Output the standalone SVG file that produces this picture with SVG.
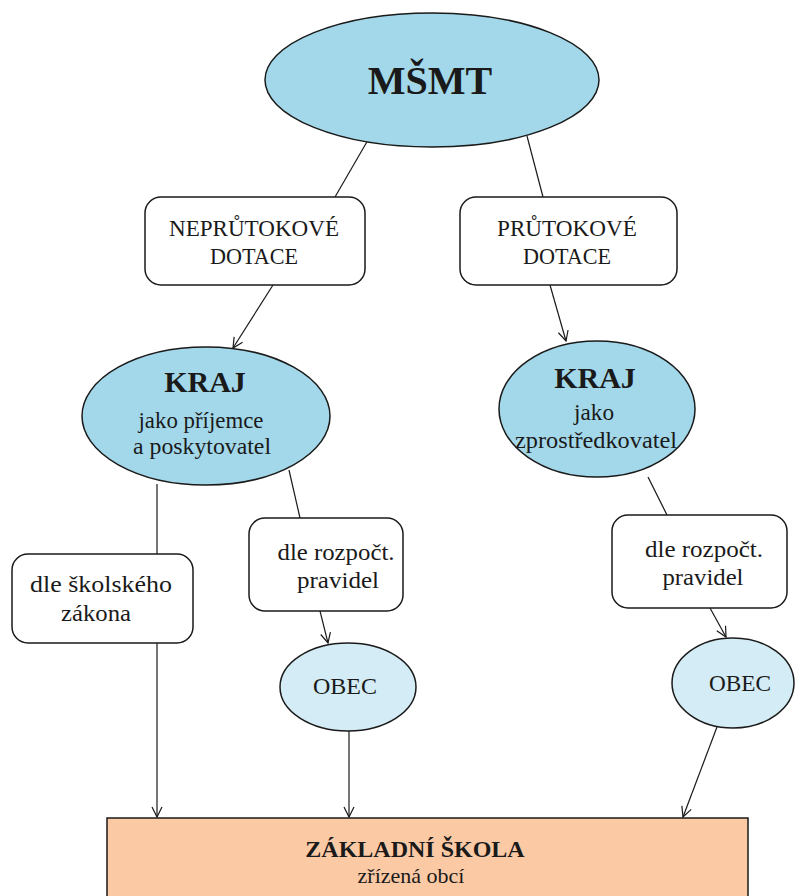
<svg xmlns="http://www.w3.org/2000/svg" width="799" height="896" viewBox="0 0 799 896">
<style>
  .txt { font-family: 'Liberation Serif', 'Times New Roman', Tinos, 'DejaVu Serif', serif; fill: #1a1a1a; text-anchor: middle; }
  .b { font-weight: bold; }
  .ell { fill: #a3d8ea; stroke: #1a1a1a; stroke-width: 1.5; }
  .ell2 { fill: #d4ecf5; stroke: #1a1a1a; stroke-width: 1.5; }
  .box { fill: #ffffff; stroke: #1a1a1a; stroke-width: 1.5; }
  .school { fill: #fcc9a5; stroke: #1a1a1a; stroke-width: 1.5; }
  .conn { stroke: #1a1a1a; stroke-width: 1.2; fill: none; }
  .arr { marker-end: url(#open); }
</style>
<defs>
  <marker id="open" viewBox="0 0 12 12" refX="11" refY="6" markerWidth="12" markerHeight="12" markerUnits="userSpaceOnUse" orient="auto">
    <path d="M1,1 L11,6 L1,11" fill="none" stroke="#1a1a1a" stroke-width="1.2"/>
  </marker>
</defs>
<rect width="799" height="896" fill="#ffffff"/>

<g id="connectors">
  <line class="conn" x1="368" y1="140" x2="335" y2="197"/>
  <line class="conn" x1="527" y1="136" x2="543" y2="197"/>
  <line class="conn arr" x1="273" y1="285" x2="233" y2="348"/>
  <line class="conn arr" x1="550" y1="285" x2="566" y2="341"/>
  <line class="conn" x1="157" y1="484" x2="157" y2="554"/>
  <line class="conn arr" x1="157" y1="643" x2="157" y2="817"/>
  <line class="conn" x1="289" y1="470" x2="300" y2="518"/>
  <line class="conn arr" x1="320" y1="611" x2="328" y2="643"/>
  <line class="conn arr" x1="349" y1="731" x2="349" y2="817"/>
  <line class="conn" x1="648" y1="477" x2="667" y2="515"/>
  <line class="conn arr" x1="710" y1="608" x2="726" y2="637"/>
  <line class="conn arr" x1="717" y1="727" x2="683" y2="817"/>
</g>

<g id="msmt">
  <ellipse class="ell" cx="432" cy="80" rx="167" ry="67"/>
  <text class="txt b" x="430" y="94" font-size="40">MŠMT</text>
</g>

<g id="neprutokove">
  <rect class="box" x="145" y="197" width="220" height="88" rx="16"/>
  <text class="txt" x="254" y="236" font-size="23" textLength="170" lengthAdjust="spacingAndGlyphs">NEPRŮTOKOVÉ</text>
  <text class="txt" x="254" y="264" font-size="23" textLength="88" lengthAdjust="spacingAndGlyphs">DOTACE</text>
</g>

<g id="prutokove">
  <rect class="box" x="460" y="197" width="217" height="88" rx="16"/>
  <text class="txt" x="567" y="236" font-size="23" textLength="140" lengthAdjust="spacingAndGlyphs">PRŮTOKOVÉ</text>
  <text class="txt" x="567" y="264" font-size="23" textLength="88" lengthAdjust="spacingAndGlyphs">DOTACE</text>
</g>

<g id="kraj-left">
  <ellipse class="ell" cx="206" cy="416" rx="124" ry="69"/>
  <text class="txt b" x="205" y="392" font-size="30">KRAJ</text>
  <text class="txt" x="201" y="428" font-size="23" textLength="125" lengthAdjust="spacingAndGlyphs">jako příjemce</text>
  <text class="txt" x="202" y="454" font-size="23" textLength="138" lengthAdjust="spacingAndGlyphs">a poskytovatel</text>
</g>

<g id="kraj-right">
  <ellipse class="ell" cx="597" cy="409" rx="98" ry="68"/>
  <text class="txt b" x="595" y="388" font-size="30">KRAJ</text>
  <text class="txt" x="594" y="420" font-size="23" textLength="40" lengthAdjust="spacingAndGlyphs">jako</text>
  <text class="txt" x="596" y="448" font-size="23" textLength="162" lengthAdjust="spacingAndGlyphs">zprostředkovatel</text>
</g>

<g id="skolsky-zakon">
  <rect class="box" x="12" y="554" width="181" height="89" rx="16"/>
  <text class="txt" x="101" y="592" font-size="24" textLength="142" lengthAdjust="spacingAndGlyphs">dle školského</text>
  <text class="txt" x="96" y="621" font-size="24" textLength="70" lengthAdjust="spacingAndGlyphs">zákona</text>
</g>

<g id="rozpoct-left">
  <rect class="box" x="249" y="518" width="154" height="93" rx="16"/>
  <text class="txt" x="336" y="560" font-size="24" textLength="117" lengthAdjust="spacingAndGlyphs">dle rozpočt.</text>
  <text class="txt" x="338" y="588" font-size="24" textLength="82" lengthAdjust="spacingAndGlyphs">pravidel</text>
</g>

<g id="rozpoct-right">
  <rect class="box" x="612" y="515" width="175" height="93" rx="16"/>
  <text class="txt" x="704" y="557" font-size="24" textLength="118" lengthAdjust="spacingAndGlyphs">dle rozpočt.</text>
  <text class="txt" x="703" y="585" font-size="24" textLength="81" lengthAdjust="spacingAndGlyphs">pravidel</text>
</g>

<g id="obec-left">
  <ellipse class="ell2" cx="348" cy="687" rx="68" ry="44"/>
  <text class="txt" x="345" y="694" font-size="23" textLength="64" lengthAdjust="spacingAndGlyphs">OBEC</text>
</g>

<g id="obec-right">
  <ellipse class="ell2" cx="733" cy="683" rx="61" ry="45"/>
  <text class="txt" x="740" y="691" font-size="23" textLength="62" lengthAdjust="spacingAndGlyphs">OBEC</text>
</g>

<g id="zakladni-skola">
  <rect class="school" x="107" y="818" width="641" height="90"/>
  <text class="txt b" x="415" y="857" font-size="24" fill="#2a1a10">ZÁKLADNÍ ŠKOLA</text>
  <text class="txt" x="411" y="883" font-size="22">zřízená obcí</text>
</g>
</svg>
